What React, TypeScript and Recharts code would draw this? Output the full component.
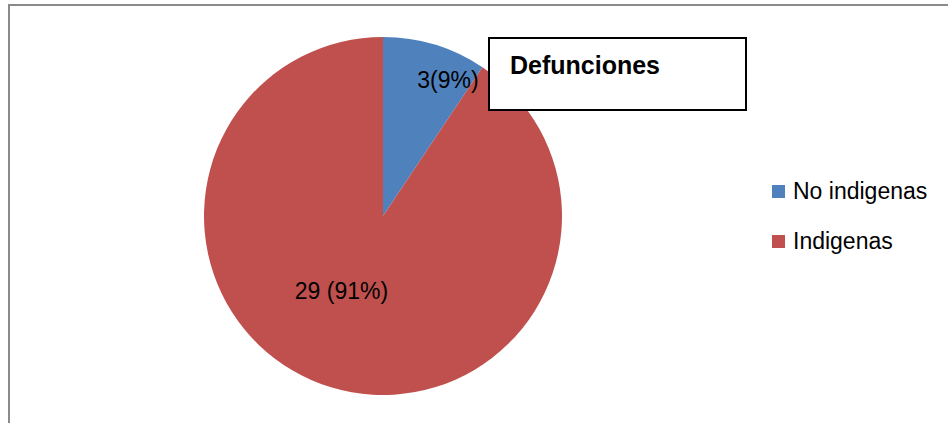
import React from "react";
import { PieChart, Pie, Cell, Legend } from "recharts";

const categories = ["No indigenas", "Indigenas"];
const counts = [3, 29];
const percentLabels = ["3(9%)", "29 (91%)"];
const title = "Defunciones";

const colors = ["#4F81BD", "#C0504D"];
// label placement relative to slice geometry: [radius ratio, angle offset deg]
const labelPlacement = [
  [0.84, -8.7],
  [0.477, -12.2],
];

const data = categories.map((name, i) => ({ name, value: counts[i], label: percentLabels[i] }));

const FONT = "'Liberation Sans', Arial, sans-serif";
const RADIAN = Math.PI / 180;

const renderLabel = (props: any) => {
  const { cx, cy, midAngle, outerRadius, index } = props;
  const [ratio, off] = labelPlacement[index];
  const a = (midAngle + off) * RADIAN;
  const r = outerRadius * ratio;
  const x = cx + r * Math.cos(a);
  const y = cy - r * Math.sin(a);
  return (
    <text
      x={x}
      y={y}
      textAnchor="middle"
      dominantBaseline="central"
      fill="#000"
      fontFamily={FONT}
      fontSize={23}
    >
      {data[index].label}
    </text>
  );
};

const renderLegend = () => (
  <div style={{ fontFamily: FONT, fontSize: 23, color: "#000" }}>
    {data.map((d, i) => (
      <div key={d.name} style={{ display: "flex", alignItems: "center", height: 50 }}>
        <div style={{ width: 13, height: 13, background: colors[i], marginRight: 8 }} />
        <span>{d.name}</span>
      </div>
    ))}
  </div>
);

export default function App() {
  return (
    <div style={{ position: "absolute", left: 0, top: 0, width: 948, height: 423, background: "#fff", overflow: "hidden" }}>
      <div
        style={{
          position: "absolute",
          left: 8,
          top: 4,
          width: 945,
          height: 425,
          borderTop: "2px solid #8a8a8a",
          borderLeft: "2px solid #8a8a8a",
        }}
      />
      <div style={{ position: "absolute", left: 0, top: 0 }}>
        <PieChart width={948} height={423} margin={{ top: 0, right: 0, bottom: 0, left: 0 }}>
          <Pie
            data={data}
            dataKey="value"
            nameKey="name"
            cx={383}
            cy={216}
            outerRadius={179}
            startAngle={90}
            endAngle={-270}
            stroke="none"
            isAnimationActive={false}
            labelLine={false}
            label={renderLabel}
          >
            {data.map((d, i) => (
              <Cell key={d.name} fill={colors[i]} />
            ))}
          </Pie>
          <Legend
            content={renderLegend}
            wrapperStyle={{ position: "absolute", left: 772, top: 166, width: 170, bottom: "auto", right: "auto" }}
          />
        </PieChart>
      </div>
      <div
        style={{
          position: "absolute",
          left: 488,
          top: 37,
          width: 255,
          height: 70,
          border: "2px solid #000",
          background: "#fff",
          boxSizing: "content-box",
        }}
      >
        <div
          style={{
            position: "absolute",
            left: 20,
            top: 12,
            fontFamily: FONT,
            fontWeight: "bold",
            fontSize: 25,
            color: "#000",
          }}
        >
          {title}
        </div>
      </div>
    </div>
  );
}
